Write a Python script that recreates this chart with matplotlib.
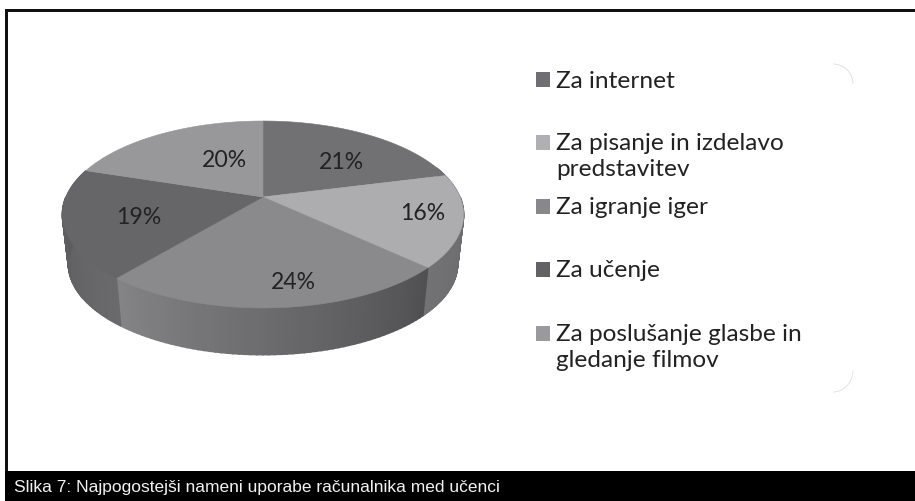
#!/usr/bin/env python3
"""3D-look pie from a scanned report page, drawn in pixel coordinates."""
import numpy as np
import matplotlib
matplotlib.use("Agg")
import matplotlib.pyplot as plt
from matplotlib.colors import to_rgb
from matplotlib.patches import Polygon, Rectangle, Arc

W, H = 915, 502

labels = ["Za internet", "Za pisanje in izdelavo\npredstavitev", "Za igranje iger",
          "Za učenje", "Za poslušanje glasbe in\ngledanje filmov"]
values = [21, 16, 24, 19, 20]
top_colors = ["#717173", "#adadb0", "#8a8a8c", "#666668", "#98989a"]
side_left = ["#6e6e70", "#727274", "#848486", "#5c5c5e", "#6e6e70"]
side_right = ["#6e6e70", "#6a6a6c", "#505052", "#6a6a6c", "#6e6e70"]
legend_colors = ["#6f6f71", "#b0b0b2", "#88888a", "#626264", "#9a9a9c"]
legend_y = [80, 143, 207, 270, 334]
pct_pos = [(341.5, 163), (422.5, 214), (293, 283), (139, 218), (224, 161)]

CX, CY = 263, 198      # apex of the pie
R, A, P = 197, 90.2, 0.187   # radius, vertical scale, perspective
DEPTH, SHRINK = 50, 0.97

INK = "#222222"


def project(deg):
    t = np.radians(deg)
    u, v = np.sin(t), np.cos(t)
    d = 1 + P * v
    return R * u / d, -A * v / d


def top_xy(deg):
    x, y = project(deg)
    return CX + x, CY + y


def bottom_xy(deg):
    x, y = project(deg)
    return CX + SHRINK * x, CY + DEPTH + SHRINK * y


fig = plt.figure(figsize=(W / 100, H / 100), dpi=100)
ax = fig.add_axes([0, 0, 1, 1])
ax.set_xlim(0, W)
ax.set_ylim(H, 0)
ax.axis("off")

# frame and caption bar
ax.add_patch(Rectangle((5, 10), W - 5, 3, color="#111111", lw=0))
ax.add_patch(Rectangle((5, 10), 2.5, H - 10, color="#111111", lw=0))
ax.add_patch(Rectangle((5, 472), W - 5, 30, color="black", lw=0))
ax.text(14, 487.5, "Slika 7: Najpogostejši nameni uporabe računalnika med učenci",
        color="#f2f2f2", fontsize=12.55, family="Liberation Sans", va="center", ha="left")

# wedge edges, clockwise from 12 o'clock
edges = np.cumsum([0] + values) / sum(values) * 360

# silhouette ends: the wall runs slightly past 90 and 270 because of the shrink
for lo, hi, col in [(70, 90, side_right[1]), (270, 288, side_left[3])]:
    steps = np.linspace(lo, hi, 20)
    pts = [top_xy(s) for s in steps] + [bottom_xy(s) for s in steps[::-1]]
    ax.add_patch(Polygon(pts, closed=True, fc=col, ec=col, lw=0.8, zorder=1))

# side wall: thin strips, shaded left to right within each slice
for i in range(len(values)):
    a0, a1 = edges[i], edges[i + 1]
    lo, hi = max(a0, 90), min(a1, 270)
    if hi <= lo:
        continue
    c_start = np.array(to_rgb(side_right[i]))
    c_end = np.array(to_rgb(side_left[i]))
    steps = np.linspace(lo, hi, 60)
    for s0, s1 in zip(steps[:-1], steps[1:]):
        f = ((s0 + s1) / 2 - lo) / (hi - lo)
        pts = [top_xy(s0), top_xy(s1), bottom_xy(s1), bottom_xy(s0)]
        col = c_start + (c_end - c_start) * f
        ax.add_patch(Polygon(pts, closed=True, fc=col, ec=col, lw=1.2, zorder=1.5))

# top faces
for i, col in enumerate(top_colors):
    arc = [top_xy(a) for a in np.linspace(edges[i], edges[i + 1], 80)]
    ax.add_patch(Polygon([(CX, CY)] + arc, closed=True, fc=col, ec=col, lw=0.4, zorder=2))

# percentage labels
for v, (px, py) in zip(values, pct_pos):
    ax.text(px, py, f"{v}%", fontsize=16.6, color=INK, family="Lato",
            ha="center", va="center", zorder=3)

# legend
for lab, col, y in zip(labels, legend_colors, legend_y):
    ax.add_patch(Rectangle((535.7, y - 7), 14, 14.5, color=col, lw=0))
    ax.text(556.5, y - 9.5, lab, fontsize=17.6, color=INK, family="Lato",
            ha="left", va="top", linespacing=1.28)

# faint rounded corners of the legend box
ax.add_patch(Arc((833, 85), 40, 40, theta1=270, theta2=360, color="#dddddd", lw=0.6))
ax.add_patch(Arc((833, 371), 40, 44, theta1=0, theta2=90, color="#dddddd", lw=0.6))

fig.savefig("out.png", dpi=100, facecolor="white")
